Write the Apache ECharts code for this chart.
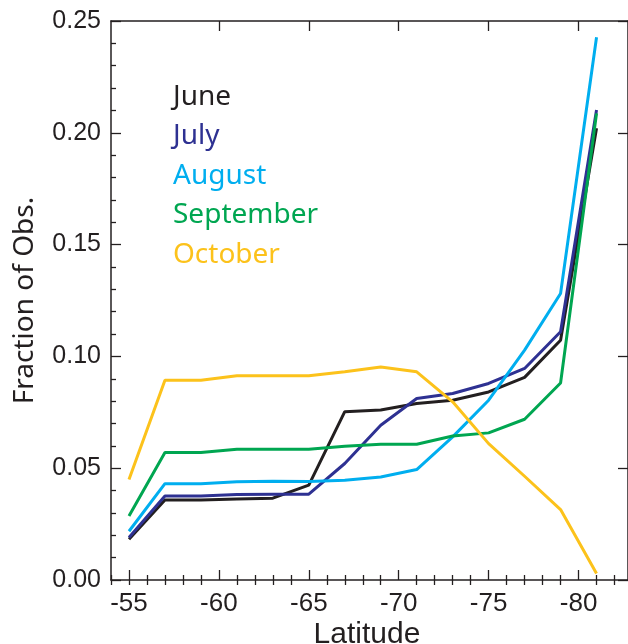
<!DOCTYPE html>
<html>
<head>
<meta charset="utf-8">
<script src="https://cdn.jsdelivr.net/npm/echarts@6/dist/echarts.min.js"></script>
<style>html,body{margin:0;padding:0;background:#fff;}#c{width:628px;height:644px;}</style>
</head>
<body>
<div id="c"></div>
<script>
const latitudes = [-55, -57, -59, -61, -63, -65, -67, -69, -71, -73, -75, -77, -79, -81];
const june      = [0.0182, 0.0358, 0.0358, 0.0362, 0.0366, 0.0424, 0.0753, 0.0760, 0.0789, 0.0804, 0.0841, 0.0906, 0.1072, 0.2020];
const july      = [0.0190, 0.0376, 0.0376, 0.0382, 0.0384, 0.0384, 0.0521, 0.0692, 0.0812, 0.0834, 0.0879, 0.0946, 0.1110, 0.2102];
const august    = [0.0218, 0.0431, 0.0431, 0.0439, 0.0442, 0.0440, 0.0446, 0.0461, 0.0494, 0.0640, 0.0804, 0.1028, 0.1281, 0.2427];
const september = [0.0286, 0.0570, 0.0570, 0.0585, 0.0585, 0.0585, 0.0598, 0.0607, 0.0607, 0.0644, 0.0658, 0.0719, 0.0881, 0.2087];
const october   = [0.0449, 0.0893, 0.0893, 0.0913, 0.0913, 0.0913, 0.0931, 0.0953, 0.0931, 0.0797, 0.0610, 0.0464, 0.0315, 0.0029];
const monthNames = ['June', 'July', 'August', 'September', 'October'];
const xTickLabels = [-55, -60, -65, -70, -75, -80];
const xMinorTicks = [-54,-56,-57,-58,-59,-61,-62,-63,-64,-66,-67,-68,-69,-71,-72,-73,-74,-76,-77,-78,-79,-81,-82];

const colors = ['#231f20', '#2e3192', '#00aeef', '#00a651', '#fcc21b'];
const seriesValues = [june, july, august, september, october];
const ink = '#231f20';
const XMIN = -82.75, XMAX = -54;

const chart = echarts.init(document.getElementById('c'), null, {renderer: 'canvas'});

function xAxisBase(extra) {
  return Object.assign({
    type: 'value', min: XMIN, max: XMAX, inverse: true,
    splitLine: {show: false},
    axisLine: {show: false},
    axisLabel: {show: false},
    axisTick: {show: false}
  }, extra);
}

const option = {
  animation: false,
  backgroundColor: '#fff',
  grid: {left: 111, top: 21, bottom: 64, right: -3.8, containLabel: false},
  title: {
    text: 'Latitude', left: 362, top: 615, textAlign: 'center',
    textStyle: {fontFamily: 'Liberation Sans', fontSize: 30, fontWeight: 'normal', color: ink}
  },
  legend: {
    orient: 'vertical', left: 163, top: 78, itemGap: 11.5,
    icon: 'none', itemWidth: 0, itemHeight: 10,
    textStyle: {fontFamily: 'Noto Sans', fontSize: 28},
    data: monthNames.map((n, i) => ({name: n, textStyle: {color: colors[i], fontFamily: 'Noto Sans', fontSize: 28}}))
  },
  xAxis: [
    xAxisBase({
      position: 'bottom',
      axisLine: {show: true, onZero: false, lineStyle: {color: ink, width: 1.5}},
      axisTick: {show: true, inside: true, length: 10, lineStyle: {color: ink, width: 1.3}, customValues: xTickLabels},
      axisLabel: {show: true, customValues: xTickLabels, margin: 11, fontFamily: 'Liberation Sans', fontSize: 26, color: ink,
        formatter: v => String(v)}
    }),
    xAxisBase({
      position: 'bottom',
      axisTick: {show: true, inside: true, length: 5, lineStyle: {color: ink, width: 1.3}, customValues: xMinorTicks}
    }),
    xAxisBase({
      position: 'top',
      axisLine: {show: true, onZero: false, lineStyle: {color: ink, width: 1.5}},
      axisTick: {show: true, inside: true, length: 10, lineStyle: {color: ink, width: 1.3}, customValues: xTickLabels.slice(1)}
    }),
    xAxisBase({
      position: 'top',
      axisTick: {show: true, inside: true, length: 5, lineStyle: {color: ink, width: 1.3}, customValues: [-55].concat(xMinorTicks)}
    })
  ],
  yAxis: [
    {
      type: 'value', min: 0, max: 0.25, interval: 0.05, position: 'left',
      name: 'Fraction of Obs.', nameLocation: 'middle', nameRotate: 90, nameGap: 72,
      nameTextStyle: {fontFamily: 'Noto Sans', fontSize: 28, color: ink},
      splitLine: {show: false},
      axisLine: {show: true, onZero: false, lineStyle: {color: ink, width: 1.5}},
      axisTick: {show: true, inside: true, length: 10, lineStyle: {color: ink, width: 1.3}},
      minorTick: {show: true, splitNumber: 5, length: 5, lineStyle: {color: ink, width: 1.3}},
      minorSplitLine: {show: false},
      axisLabel: {margin: 10, fontFamily: 'Liberation Sans', fontSize: 25, color: ink, formatter: v => v.toFixed(2)}
    },
    {
      type: 'value', min: 0, max: 0.25, interval: 0.05, position: 'right',
      splitLine: {show: false},
      axisLine: {show: true, onZero: false, lineStyle: {color: ink, width: 1.5}},
      axisTick: {show: true, inside: true, length: 10, lineStyle: {color: ink, width: 1.3}},
      axisLabel: {show: false}
    }
  ],
  series: monthNames.map((n, i) => ({
    name: n, type: 'line', xAxisIndex: 0, yAxisIndex: 0,
    showSymbol: false, symbol: 'none',
    color: colors[i],
    lineStyle: {color: colors[i], width: 3},
    data: latitudes.map((lat, k) => [lat, seriesValues[i][k]])
  }))
};
chart.setOption(option);
</script>
</body>
</html>
